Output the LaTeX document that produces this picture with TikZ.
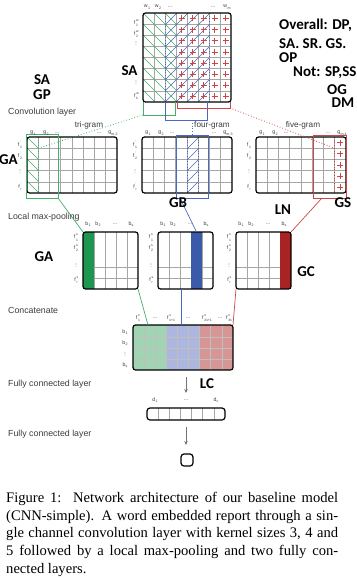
\documentclass[tikz,border=0pt]{standalone}
\usepackage{fontspec}
\setmainfont{Liberation Serif}
\setsansfont{Liberation Sans}
\newfontfamily\tagfont{Carlito}
\usepackage{amsmath}
\usepackage{xcolor}
\definecolor{cnngreen}{RGB}{30,150,80}
\definecolor{cnnblue}{RGB}{60,90,170}
\definecolor{cnnred}{RGB}{170,35,35}
\definecolor{lightgreen}{RGB}{160,212,178}
\definecolor{lightblue}{RGB}{172,182,222}
\definecolor{lightred}{RGB}{214,150,150}
\definecolor{linegreen}{RGB}{70,175,105}
\definecolor{lineblue}{RGB}{75,105,195}
\definecolor{linered}{RGB}{205,70,70}
\definecolor{labelgray}{RGB}{60,60,60}
\usetikzlibrary{arrows.meta, positioning, calc}

\newcommand{\ix}[2]{#1\kern0.3pt\raisebox{-1.6pt}{\fontsize{3.6}{3.6}\selectfont #2}}
\newcommand{\fx}[2]{f\kern0.8pt\makebox[0pt][l]{\raisebox{3pt}{\fontsize{3.4}{3.4}\selectfont #1}}\raisebox{-2.2pt}{\fontsize{3.4}{3.4}\selectfont #2}}

\tikzset{
  matbox/.style={draw=black, line width=1.2pt, rounded corners=2.5pt, inner sep=0pt, outer sep=0pt},
  gridline/.style={black!35, line width=0.6pt},
  idx/.style={font=\sffamily\fontsize{5.2}{5.2}\selectfont, text=labelgray, inner sep=0pt},
  vdot/.style={idx, rotate=90},
  layertext/.style={font=\sffamily\fontsize{8.8}{9}\selectfont, text=labelgray, anchor=base west, inner sep=0pt},
  gramtext/.style={font=\sffamily\fontsize{8.2}{8}\selectfont, text=labelgray, inner sep=0pt},
  annot/.style={font=\tagfont\bfseries\fontsize{15}{15}\selectfont, inner sep=0pt},
  fcarrow/.style={-{Stealth[length=4pt, width=3.5pt]}, black!55, line width=0.6pt}
}

\begin{document}
\begin{tikzpicture}[x=1pt, y=-1pt]
\useasboundingbox (0,0) rectangle (356,578);

% --- Word embedding matrix ---
\foreach \i in {1,...,7} {
  \draw[gridline] (143+\i*11,13) -- ++(0,89);
  \draw[gridline] (143,13+\i*11.125) -- ++(88,0);
}
\begin{scope}
  \clip (143,13) rectangle (176,102);
  \foreach \s in {-88,-77,...,33} \draw[linegreen, line width=0.6pt] (143+\s,13) -- ++(89,89);
\end{scope}
\begin{scope}
  \clip (165,13) rectangle (209,102);
  \foreach \s in {-88,-77,...,44} \draw[lineblue, line width=0.6pt] (165+\s,102) -- ++(89,-89);
\end{scope}
\draw[lineblue, dotted, line width=0.7pt] (165,13) -- (165,102) (209,13) -- (209,102);
\foreach \c in {0,...,4}
  \foreach \r in {0,...,7}
    \draw[linered, line width=0.7pt] (178.5+\c*11,18.5+\r*11.125) -- ++(6,0) (181.5+\c*11,15.5+\r*11.125) -- ++(0,6);
\node[matbox, anchor=north west, minimum width=88pt, minimum height=89pt] (emb) at (143,13) {};

\node[idx] (w1) at (147,7) {\ix{w}{1}};
\node[idx] (w2) at (158,7) {\ix{w}{2}};
\node[idx] (wdotsA) at (170,7) {...};
\node[idx] (wdotsB) at (213,7) {...};
\node[idx] (wm) at (227,7) {\ix{w}{m}};
\node[idx] (fw1) at (136,23) {\fx{w}{1}};
\node[idx] (fw2) at (136,34) {\fx{w}{2}};
\node[vdot] (fwdotsA) at (136,43) {...};
\node[vdot] (fwdotsB) at (136,82) {...};
\node[idx] (fwk) at (136,96) {\fx{w}{k}};

% kernel brackets under the embedding
\draw[linegreen, line width=0.8pt] (143,102) |- (175,115) -- (175,102);
\draw[lineblue, line width=0.8pt] (165,102) |- (207,120) -- (207,102);
\draw[linered, line width=0.8pt] (177,102) |- (230,108) -- (230,102);
\coordinate (trikern) at (143,115);
\coordinate (fourkern) at (192,120);
\coordinate (fivekern) at (230,108);

% --- Convolution layer ---
\foreach \ox in {27,142,256} {
  \foreach \i in {1,...,7} \draw[gridline] (\ox+\i*11.25,137) -- ++(0,56);
  \foreach \j in {1,...,4} \draw[gridline] (\ox,137+\j*11.2) -- ++(90,0);
}
\begin{scope}
  \clip (27,137) rectangle (38.25,193);
  \foreach \s in {-55,-44,...,11} \draw[linegreen, line width=0.6pt] (27+\s,137) -- ++(56,56);
\end{scope}
\draw[linegreen, dotted, line width=0.7pt] (38.25,137) -- (38.25,193);
\begin{scope}
  \clip (187,137) rectangle (198.25,193);
  \foreach \s in {-55,-44,...,11} \draw[lineblue, line width=0.6pt] (187+\s,193) -- ++(56,-56);
\end{scope}
\draw[lineblue, dotted, line width=0.7pt] (187,137) -- (187,193) (198.25,137) -- (198.25,193);
\foreach \r in {0,...,4}
  \draw[linered, line width=0.7pt] (337.4,142.6+\r*11.2) -- ++(6,0) (340.4,139.6+\r*11.2) -- ++(0,6);
\draw[linered, dotted, line width=0.7pt] (334.75,137) -- (334.75,193);
\node[matbox, anchor=north west, minimum width=90pt, minimum height=56pt] (convA) at (27,137) {};
\node[matbox, anchor=north west, minimum width=90pt, minimum height=56pt] (convB) at (142,137) {};
\node[matbox, anchor=north west, minimum width=90pt, minimum height=56pt] (convC) at (256,137) {};
\draw[linegreen, line width=0.8pt] (26,134) rectangle (58,198);
\draw[lineblue, line width=0.8pt] (176,135) rectangle (208,198);
\draw[linered, line width=0.8pt] (313,135) rectangle (346,198);

\node[gramtext] (trigram) at (89,125) {tri-gram};
\node[gramtext] (fourgram) at (212,125) {four-gram};
\node[gramtext] (fivegram) at (303,125) {five-gram};

\foreach \ox/\last [count=\k] in {27/m-2,142/m-3,256/m-4} {
  \node[idx] (g1-\k) at (\ox+6,133) {\ix{g}{1}};
  \node[idx] (g2-\k) at (\ox+19,133) {\ix{g}{2}};
  \node[idx] (gdA-\k) at (\ox+30,133) {...};
  \node[idx] (gdB-\k) at (\ox+72,133) {...};
  \node[idx] (gl-\k) at (\ox+86,133) {\ix{g}{\last}};
  \node[idx] (fr1-\k) at (\ox-7,145) {\fx{'}{1}};
  \node[idx] (fr2-\k) at (\ox-7,156) {\fx{'}{2}};
  \node[vdot] (frd-\k) at (\ox-7,171) {...};
  \node[idx] (frr-\k) at (\ox-7,187) {\fx{'}{r}};
}

\coordinate (triin) at (38.25,148.2);
\coordinate (fivein) at (334.75,148.2);
\draw[linegreen, dotted, line width=0.8pt] (trikern) -- (triin);
\draw[lineblue, dotted, line width=0.8pt] (fourkern) -- (fourkern |- convB.north);
\draw[linered, dotted, line width=0.8pt] (fivekern) -- (fivein);

% --- Local max-pooling ---
\foreach \ox in {83,158,236} {
  \foreach \i in {1,...,4} \draw[gridline] (\ox+\i*11,232) -- ++(0,57);
  \draw[gridline] (\ox,267) -- ++(55,0) (\ox,278) -- ++(55,0);
}
\fill[cnngreen] (83,232) rectangle (94,289);
\fill[cnnblue] (191,232) rectangle (202,289);
\fill[cnnred] (280,232) rectangle (291,289);
\node[matbox, anchor=north west, minimum width=55pt, minimum height=57pt] (poolA) at (83,232) {};
\node[matbox, anchor=north west, minimum width=55pt, minimum height=57pt] (poolB) at (158,232) {};
\node[matbox, anchor=north west, minimum width=55pt, minimum height=57pt] (poolC) at (236,232) {};

\foreach \ox [count=\k] in {83,158,236} {
  \node[idx] (b1-\k) at (\ox+5,224) {\ix{b}{1}};
  \node[idx] (b2-\k) at (\ox+15,224) {\ix{b}{2}};
  \node[idx] (bd-\k) at (\ox+32,224) {...};
  \node[idx] (bs-\k) at (\ox+48,224) {\ix{b}{s}};
  \node[idx] (fs1-\k) at (\ox-7,237.5) {\fx{s}{1}};
  \node[idx] (fs2-\k) at (\ox-7,248) {\fx{s}{2}};
  \node[vdot] (fsd-\k) at (\ox-7,265) {...};
  \node[idx] (fsr-\k) at (\ox-7,280) {\fx{s}{r}};
}

\coordinate (triout) at (58,198);
\coordinate (fourout) at (180,198);
\coordinate (fourmax) at (196.5,232);
\coordinate (fiveout) at (322,198);
\draw[linegreen, line width=0.7pt] (triout) -- (poolA.north west);
\draw[lineblue, line width=0.7pt] (fourout) -- (fourmax);
\draw[linered, line width=0.7pt] (fiveout) -- (poolC.north east);

% --- Concatenate ---
\fill[lightgreen] (133,325) rectangle (166.3,370);
\fill[lightblue] (166.3,325) rectangle (199.7,370);
\fill[lightred] (199.7,325) rectangle (233,370);
\foreach \i in {1,...,8} \draw[black!25, line width=0.6pt] (133+\i*11.11,325) -- ++(0,45);
\foreach \y in {337,348,359} \draw[black!25, line width=0.6pt] (133,\y) -- ++(100,0);
\node[matbox, anchor=north west, minimum width=100pt, minimum height=45pt] (cat) at (133,325) {};

\node[idx] (cf1) at (138,318) {\fx{s}{1}};
\node[idx] (cfdA) at (155,318) {...};
\node[idx] (cfB) at (171,318) {\fx{s}{s+1}};
\node[idx] (cfdB) at (188,318) {...};
\node[idx] (cfC) at (207,318) {\fx{s}{2s+1}};
\node[idx] (cfdC) at (220,318) {...};
\node[idx] (cfD) at (229,318) {\fx{s}{3s}};
\node[idx] (cb1) at (125,332) {\ix{b}{1}};
\node[idx] (cb2) at (125,343) {\ix{b}{2}};
\node[vdot] (cbd) at (125,354) {...};
\node[idx] (cbs) at (125,365) {\ix{b}{s}};

\coordinate (catgreen) at (148,325);
\coordinate (poolBout) at (181,289);
\coordinate (catblue) at (181,325);
\draw[linegreen, line width=0.7pt] (poolA.south east) -- (catgreen);
\draw[lineblue, line width=0.7pt] (poolBout) -- (catblue);
\draw[linered, line width=0.7pt] (poolC.south west) -- (cat.north east);

% --- Fully connected layers ---
\foreach \i in {1,...,6} \draw[gridline] (147+\i*11.14,408) -- ++(0,12);
\node[matbox, minimum width=78pt, minimum height=12pt, rounded corners=3pt] (fc) at (186,414) {};
\node[idx] (d1) at (155,400) {\ix{d}{1}};
\node[idx] (dd) at (186,400) {...};
\node[idx] (dc) at (216,400) {\ix{d}{c}};
\node[matbox, minimum width=12pt, minimum height=12pt, rounded corners=3pt] (out) at (187,460) {};
\draw[fcarrow, shorten <=7pt, shorten >=15pt] (fc.north |- cat.south) -- (fc.north);
\draw[fcarrow, shorten <=7pt, shorten >=9pt] (fc.south) -- (fc.south |- out.north);

% --- Layer names ---
\node[layertext] (convlayer) at (8,114) {Convolution layer};
\node[layertext] (poollayer) at (8,219.5) {Local max-pooling};
\node[layertext] (catlayer) at (8,313) {Concatenate};
\node[layertext] (fclayerA) at (8,386.4) {Fully connected layer};
\node[layertext] (fclayerB) at (8,436.4) {Fully connected layer};

% --- Annotations ---
\node[annot] (sa-emb) at (129.5,71) {SA};
\node[annot, anchor=west] (overall) at (279,25) {Overall: DP,};
\node[annot, anchor=west] (sasr) at (279,44) {SA. SR. GS.};
\node[annot, anchor=west] (op) at (279,58) {OP};
\node[annot, anchor=west] (notlist) at (293,73) {Not: SP,SS};
\node[annot] (og) at (337,90) {OG};
\node[annot] (dm) at (343,103) {DM};
\node[annot] (sa-left) at (42,80) {SA};
\node[annot] (gp) at (42,95) {GP};
\node[annot] (ga-conv) at (8.5,160) {GA};
\node[annot] (gb) at (178,203) {GB};
\node[annot] (ln) at (283,210) {LN};
\node[annot] (gs) at (343,203) {GS};
\node[annot] (ga-pool) at (44,257) {GA};
\node[annot] (gc) at (306,272) {GC};
\node[annot] (lc) at (207,384) {LC};

% --- Caption ---
\node[anchor=north west, inner sep=0pt, align=left, font=\fontsize{14.6}{17.7}\selectfont] (caption) at (6,492)
  {\makebox[332pt][s]{Figure 1:\ \ Network architecture of our baseline model}\\
   \makebox[332pt][s]{(CNN-simple). A word embedded report through a sin-}\\
   \makebox[332pt][s]{gle channel convolution layer with kernel sizes 3, 4 and}\\
   \makebox[332pt][s]{5 followed by a local max-pooling and two fully con-}\\
   nected layers.};

\end{tikzpicture}
\end{document}
